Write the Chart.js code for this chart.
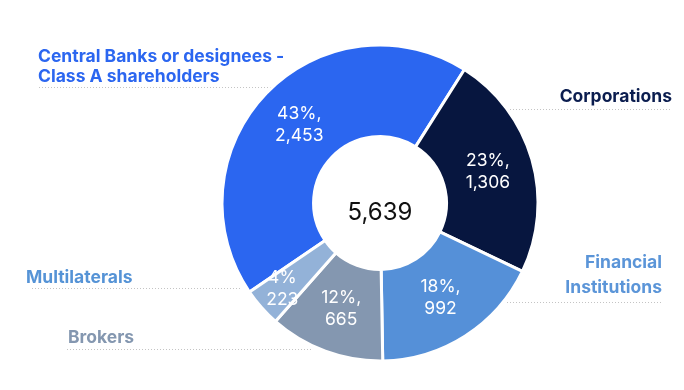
<!DOCTYPE html>
<html>
<head>
<meta charset="utf-8">
<script src="https://cdn.jsdelivr.net/npm/chart.js@4/dist/chart.umd.min.js"></script>
<style>
  html, body { margin: 0; padding: 0; background: #fff; }
  #wrap { width: 684px; height: 390px; position: relative; }
</style>
</head>
<body>
<div id="wrap"><canvas id="holders"></canvas></div>
<script>
const categories = ["Central Banks or designees - Class A shareholders", "Corporations", "Financial Institutions", "Brokers", "Multilaterals"];
const holders = [2453, 1306, 992, 665, 223];
const sharePct = [43, 23, 18, 12, 4];
const sliceColors = ["#2b66f0", "#07163f", "#5590d8", "#8497b0", "#93b2d8"];

// outside labels: text lines, colour, alignment, baselines, dotted leader line
const outsideLabels = [
    { lines: ["Central Banks or designees -", "Class A shareholders"], color: "#2b66f0", align: "left", x: 38, y: [62, 82], line: [39, 272, 87.5] },
    { lines: ["Corporations"], color: "#0b1d4f", align: "right", x: 672, y: [102], line: [507, 672, 109.5] },
    { lines: ["Financial", "Institutions"], color: "#5b95d8", align: "right", x: 662, y: [268, 293], line: [507, 662, 302.5] },
    { lines: ["Multilaterals"], color: "#5593d6", align: "left", x: 26, y: [283], line: [32, 242, 288.5] },
    { lines: ["Brokers"], color: "#8497b0", align: "left", x: 68, y: [343], line: [67, 312, 349.5] }
];

const total = holders.reduce((a, b) => a + b, 0);

const labelPlugin = {
    id: "labelPlugin",
    beforeDatasetsDraw(chart) {
        const ctx = chart.ctx;
        ctx.save();
        ctx.strokeStyle = "#c4c4c4";
        ctx.lineWidth = 1;
        ctx.setLineDash([1, 2]);
        outsideLabels.forEach(l => {
            ctx.beginPath();
            ctx.moveTo(l.line[0], l.line[2]);
            ctx.lineTo(l.line[1], l.line[2]);
            ctx.stroke();
        });
        ctx.setLineDash([]);
        ctx.font = "bold 17.5px Inter";
        ctx.textBaseline = "alphabetic";
        outsideLabels.forEach(l => {
            ctx.fillStyle = l.color;
            ctx.textAlign = l.align;
            l.lines.forEach((t, i) => ctx.fillText(t, l.x, l.y[i]));
        });
        ctx.restore();
    },
    afterDatasetsDraw(chart) {
        const ctx = chart.ctx;
        const meta = chart.getDatasetMeta(0);
        ctx.save();
        ctx.fillStyle = "#ffffff";
        ctx.font = "17.5px Inter";
        ctx.textAlign = "center";
        ctx.textBaseline = "middle";
        meta.data.forEach((arc, i) => {
            const pct = sharePct[i];
            let pos = arc.tooltipPosition();
            if (pct < 5) {
                // small slice label sits further out
                const mid = (arc.startAngle + arc.endAngle) / 2;
                const r = (arc.innerRadius + arc.outerRadius) / 2 + 18;
                pos = { x: arc.x + Math.cos(mid) * r, y: arc.y + Math.sin(mid) * r };
            }
            const first = pct < 5 ? pct + "%" : pct + "%,";
            ctx.fillText(first, pos.x, pos.y - 11);
            ctx.fillText(holders[i].toLocaleString("en-US"), pos.x, pos.y + 11);
        });
        // total in the hole
        const c = meta.data[0];
        ctx.fillStyle = "#111111";
        ctx.font = "24px Inter";
        ctx.fillText(total.toLocaleString("en-US"), c.x, c.y + 10);
        ctx.restore();
    }
};

new Chart(document.getElementById("holders"), {
    type: "doughnut",
    data: {
        labels: categories,
        datasets: [{
            data: holders,
            backgroundColor: sliceColors,
            borderColor: "#ffffff",
            borderWidth: 3,
            hoverOffset: 0
        }]
    },
    options: {
        responsive: true,
        maintainAspectRatio: false,
        animation: false,
        rotation: -124.3,
        radius: 158,
        cutout: 78,
        layout: { padding: { left: 76, right: 0, top: 16, bottom: 0 } },
        plugins: {
            legend: { display: false },
            tooltip: { enabled: false }
        }
    },
    plugins: [labelPlugin]
});
</script>
</body>
</html>
